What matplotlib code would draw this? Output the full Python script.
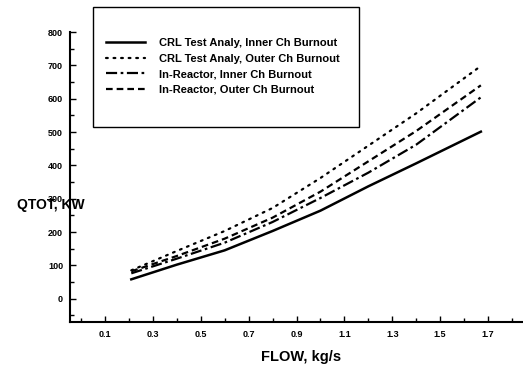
import matplotlib
matplotlib.use("Agg")
import matplotlib.pyplot as plt
from matplotlib.patches import Rectangle
from matplotlib.ticker import MultipleLocator, FixedLocator

plt.rcParams['font.family'] = ['Liberation Sans', 'DejaVu Sans']
plt.rcParams['font.weight'] = 'bold'

# Coolant flow (kg/s) and total channel power at burnout (kW)
flow = [0.21, 0.40, 0.60, 0.80, 1.00, 1.20, 1.40, 1.67]
crl_inner = [58, 102, 145, 203, 264, 337, 406, 501]
crl_outer = [85, 143, 203, 272, 362, 459, 556, 698]
reactor_inner = [76, 120, 168, 230, 302, 378, 462, 604]
reactor_outer = [82, 128, 180, 243, 321, 412, 503, 640]

series_labels = [
    "CRL Test Analy, Inner Ch Burnout",
    "CRL Test Analy, Outer Ch Burnout",
    "In-Reactor, Inner Ch Burnout",
    "In-Reactor, Outer Ch Burnout",
]

x_tick_labels = [0.1, 0.3, 0.5, 0.7, 0.9, 1.1, 1.3, 1.5, 1.7]
y_tick_labels = [0, 100, 200, 300, 400, 500, 600, 700, 800]

W, H = 523, 375
fig = plt.figure(figsize=(W / 100, H / 100), dpi=100)
ax = fig.add_axes([70 / W, 1 - 322 / H, 1 - 70 / W, (322 - 32) / H])

styles = [
    dict(linestyle='-', linewidth=1.8),
    dict(linestyle=(0, (0.8, 2.6)), linewidth=1.6, dash_capstyle='round'),
    dict(linestyle=(0, (5, 1.6, 1.2, 1.6)), linewidth=1.6),
    dict(linestyle=(0, (3, 1.8)), linewidth=1.6),
]
data = [crl_inner, crl_outer, reactor_inner, reactor_outer]
handles = []
for ys, st, lab in zip(data, styles, series_labels):
    h, = ax.plot(flow, ys, color='black', label=lab, **st)
    handles.append(h)

ax.set_xlim(-0.046, 1.846)
ax.set_ylim(-70, 800)

for s in ['top', 'right']:
    ax.spines[s].set_visible(False)
for s in ['left', 'bottom']:
    ax.spines[s].set_linewidth(1.5)

ax.xaxis.set_major_locator(FixedLocator(x_tick_labels))
ax.xaxis.set_minor_locator(MultipleLocator(0.1))
ax.yaxis.set_major_locator(FixedLocator(y_tick_labels))
ax.yaxis.set_minor_locator(MultipleLocator(50))
ax.set_xticklabels([f"{v:.1f}" for v in x_tick_labels])
ax.set_yticklabels([str(v) for v in y_tick_labels])
ax.tick_params(which='both', direction='in', width=1.0, color='black')
ax.tick_params(which='major', length=4)
ax.tick_params(which='minor', length=3)
ax.tick_params(axis='x', which='major', pad=6, labelsize=6.5)
ax.tick_params(axis='y', which='major', pad=5, labelsize=6.5)
for t in ax.get_xticklabels() + ax.get_yticklabels():
    t.set_fontweight('bold')

fig.text(51 / W, 1 - 205 / H, "QTOT, KW", ha='center', va='center',
         fontsize=10, fontweight='bold')
fig.text(301 / W, 1 - 357 / H, "FLOW, kg/s", ha='center', va='center',
         fontsize=10.5, fontweight='bold')

# Legend box
fig.patches.append(Rectangle((93 / W, 1 - 127 / H), (359 - 93) / W, (127 - 7) / H,
                             transform=fig.transFigure, fill=False,
                             edgecolor='black', linewidth=1.0))
fig.legend(handles=handles, labels=series_labels, loc='upper left',
           bbox_to_anchor=(106 / W, 1 - 38 / H), frameon=False,
           prop={'size': 8.0, 'weight': 'bold'},
           handlelength=3.5, handletextpad=1.25, labelspacing=0.5,
           borderpad=0, borderaxespad=0)

fig.savefig("out.png", dpi=100)
